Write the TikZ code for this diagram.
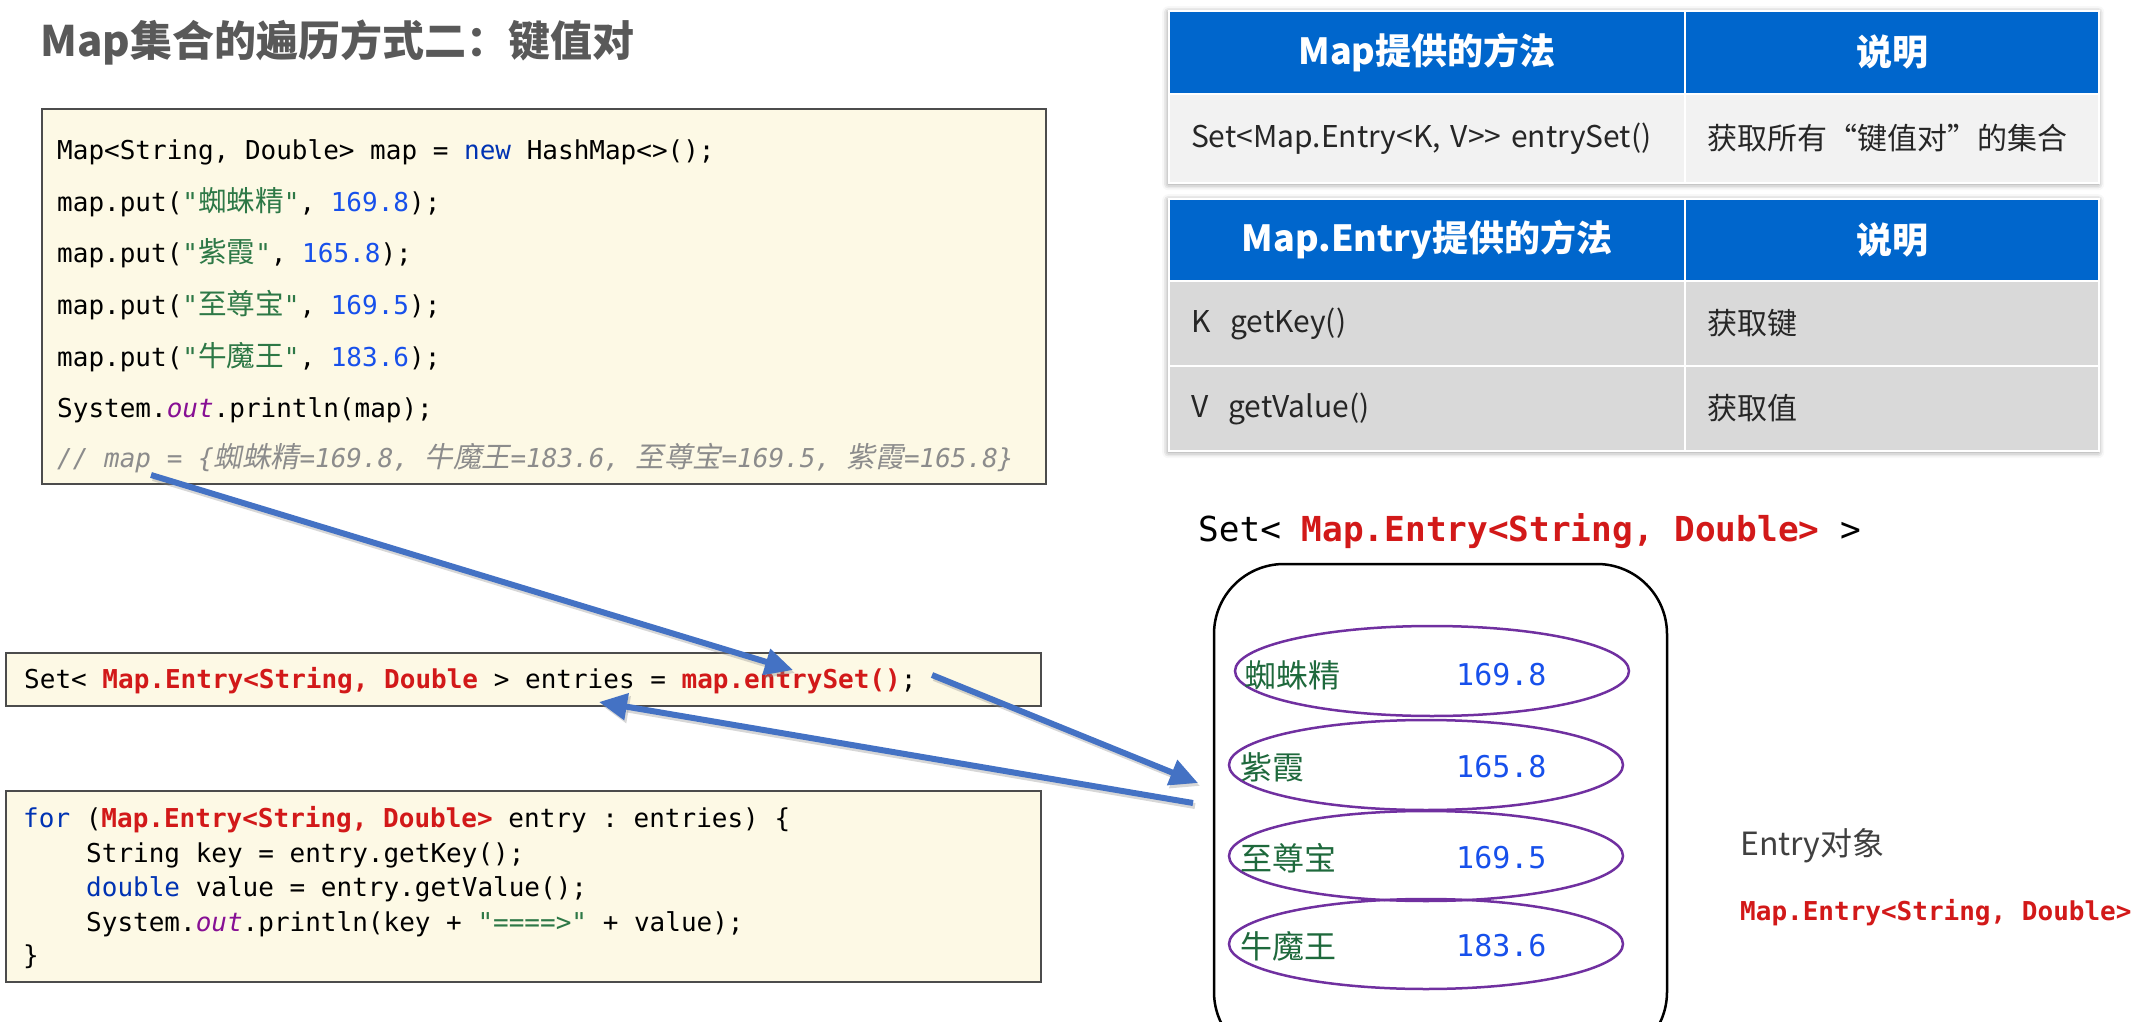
\documentclass[tikz,border=0pt]{standalone}
\usepackage{fontspec}
\setmainfont{Noto Sans CJK SC}
\setmonofont{DejaVu Sans Mono}
\newfontfamily\zhcode[Scale=1.1]{Noto Sans CJK SC}
\newfontfamily\zhslant[Scale=1.1,FakeSlant=0.2]{Noto Sans CJK SC}
\usetikzlibrary{arrows.meta,shapes.geometric,shadows.blur}

\definecolor{ttl}{RGB}{89,89,89}
\definecolor{codebg}{RGB}{253,249,229}
\definecolor{kw}{RGB}{0,51,179}
\definecolor{str}{RGB}{45,120,70}
\definecolor{num}{RGB}{23,80,235}
\definecolor{fld}{RGB}{135,16,148}
\definecolor{cmt}{RGB}{140,140,140}
\definecolor{hl}{RGB}{210,25,25}
\definecolor{hdr}{RGB}{0,102,204}
\definecolor{rowa}{RGB}{242,242,242}
\definecolor{rowb}{RGB}{217,217,217}
\definecolor{arr}{RGB}{68,114,196}
\definecolor{ell}{RGB}{112,48,160}
\definecolor{keyc}{RGB}{30,105,60}

\newcommand\zh[1]{{\zhcode #1}}
\newcommand\zhit[1]{{\zhslant #1}}

\tikzset{
  codebox/.style={draw=black!70, line width=2pt, fill=codebg, anchor=north west, inner sep=0pt},
  code/.style={anchor=mid west, inner sep=0pt, font=\ttfamily\fontsize{26}{30}\selectfont},
  tabback/.style={fill=white, anchor=north west, inner sep=0pt,
    blur shadow={shadow xshift=0pt, shadow yshift=-2pt, shadow blur radius=6pt, shadow opacity=45}},
  hcell/.style={fill=hdr, draw=white, line width=2pt, anchor=north west, inner sep=0pt,
    text=white, font=\bfseries\fontsize{36}{40}\selectfont},
  bcell/.style={draw=white, line width=2pt, anchor=north west, align=left, inner xsep=22pt,
    inner ysep=0pt, text=black!85, font=\fontsize{30}{34}\selectfont},
  entry/.style={ellipse, draw=ell, line width=2.5pt, minimum width=394pt, minimum height=90pt, inner sep=0pt},
  key/.style={anchor=west, inner sep=0pt, text=keyc, font=\fontsize{32}{36}\selectfont},
  val/.style={anchor=west, inner sep=0pt, text=num, font=\ttfamily\fontsize{30}{34}\selectfont},
  link/.style={draw=arr, line width=6pt, -{Triangle[length=28pt,width=26pt]}},
  linkshade/.style={link, draw=black!45, opacity=0.35, transform canvas={shift={(2pt,-3pt)}}}
}

\begin{document}
\begin{tikzpicture}[x=1pt,y=-1pt]
\useasboundingbox (0,0) rectangle (2137,1022);

\node[anchor=west, inner sep=0pt, text=ttl, font=\bfseries\fontsize{42}{48}\selectfont] (title) at (40,43) {Map集合的遍历方式二：键值对};

\node[codebox, minimum width=1004pt, minimum height=375pt] (box1) at (41,108) {};
\node[code] (l1) at (57,157) {Map<String, Double> map = {\color{kw}new} HashMap<>();};
\node[code] (l2) at (57,209) {map.put({\color{str}"\zh{蜘蛛精}"}, {\color{num}169.8});};
\node[code] (l3) at (57,260) {map.put({\color{str}"\zh{紫霞}"}, {\color{num}165.8});};
\node[code] (l4) at (57,312) {map.put({\color{str}"\zh{至尊宝}"}, {\color{num}169.5});};
\node[code] (l5) at (57,364) {map.put({\color{str}"\zh{牛魔王}"}, {\color{num}183.6});};
\node[code] (l6) at (57,415) {System.{\color{fld}\itshape out}.println(map);};
\node[code, text=cmt, font=\ttfamily\itshape\fontsize{26}{30}\selectfont] (l7) at (57,465) {// map = \{\zhit{蜘蛛精}=169.8, \zhit{牛魔王}=183.6, \zhit{至尊宝}=169.5, \zhit{紫霞}=165.8\}};

\node[codebox, minimum width=1035pt, minimum height=53pt] (box2) at (5,652) {};
\node[code] (es) at (24,686) {Set< {\color{hl}\bfseries Map.Entry<String, Double} > entries = {\color{hl}\bfseries map.entrySet()};};

\node[codebox, minimum width=1035pt, minimum height=191pt] (box3) at (5,790) {};
\node[code] (f1) at (23,825) {{\color{kw}for} ({\color{hl}\bfseries Map.Entry<String, Double>} entry : entries) \{};
\node[code] (f2) at (86,860) {String key = entry.getKey();};
\node[code] (f3) at (86,894) {{\color{kw}double} value = entry.getValue();};
\node[code] (f4) at (86,929) {System.{\color{fld}\itshape out}.println(key + {\color{str}"====>"} + value);};
\node[code] (f5) at (23,962) {\}};

\node[tabback, minimum width=930pt, minimum height=172pt] (tab1) at (1168,10) {};
\node[hcell, minimum width=516pt, minimum height=83pt] (h1a) at (1168,10) {Map提供的方法};
\node[hcell, minimum width=414pt, minimum height=83pt] (h1b) at (1684,10) {说明};
\node[bcell, fill=rowa, text width=472pt, minimum height=89pt] (r1a) at (1168,93) {\mbox{Set<Map.Entry<K, V>{}> entrySet()}};
\node[bcell, fill=rowa, text width=370pt, minimum height=89pt] (r1b) at (1684,93) {获取所有“键值对”的集合};

\node[tabback, minimum width=930pt, minimum height=252pt] (tab2) at (1168,198) {};
\node[hcell, minimum width=516pt, minimum height=82pt] (h2a) at (1168,198) {Map.Entry提供的方法};
\node[hcell, minimum width=414pt, minimum height=82pt] (h2b) at (1684,198) {说明};
\node[bcell, fill=rowb, text width=472pt, minimum height=85pt] (r2a) at (1168,280) {K\ \ getKey()};
\node[bcell, fill=rowb, text width=370pt, minimum height=85pt] (r2b) at (1684,280) {获取键};
\node[bcell, fill=rowb, text width=472pt, minimum height=85pt] (r3a) at (1168,365) {V\ \ getValue()};
\node[bcell, fill=rowb, text width=370pt, minimum height=85pt] (r3b) at (1684,365) {获取值};

\node[code, font=\ttfamily\fontsize{34.4}{38}\selectfont] (settype) at (1198,539) {Set< {\color{hl}\bfseries Map.Entry<String, Double>} >};

\begin{scope}
\clip (0,0) rectangle (2137,1022);
\draw[line width=2.5pt, rounded corners=70pt] (1214,564) rectangle (1667,1062);
\end{scope}

\node[entry] (e1) at (1432,671) {};
\node[entry] (e2) at (1426,765) {};
\node[entry] (e3) at (1426,856) {};
\node[entry] (e4) at (1426,944) {};
\node[key] (k1) at (1244,675) {蜘蛛精};
\node[val] (v1) at (1456,675) {169.8};
\node[key] (k2) at (1240,767) {紫霞};
\node[val] (v2) at (1456,767) {165.8};
\node[key] (k3) at (1240,858) {至尊宝};
\node[val] (v3) at (1456,858) {169.5};
\node[key] (k4) at (1240,946) {牛魔王};
\node[val] (v4) at (1456,946) {183.6};

\node[anchor=west, inner sep=0pt, text=black!75, font=\fontsize{32}{36}\selectfont] (objlbl) at (1740,846) {Entry对象};
\node[anchor=west, inner sep=0pt, text=hl, font=\ttfamily\bfseries\fontsize{26}{30}\selectfont] (objtype) at (1740,913) {Map.Entry<String, Double>};

\coordinate (c1) at (151,475);
\coordinate (t1) at (793,670);
\coordinate (c2) at (932,675);
\coordinate (t2) at (1198,783);
\coordinate (c3) at (1193,803);
\coordinate (t3) at (599,702);
\draw[linkshade] (c1) -- (t1);
\draw[linkshade] (c2) -- (t2);
\draw[linkshade] (c3) -- (t3);
\draw[link] (c1) -- (t1);
\draw[link] (c2) -- (t2);
\draw[link] (c3) -- (t3);
\end{tikzpicture}
\end{document}
